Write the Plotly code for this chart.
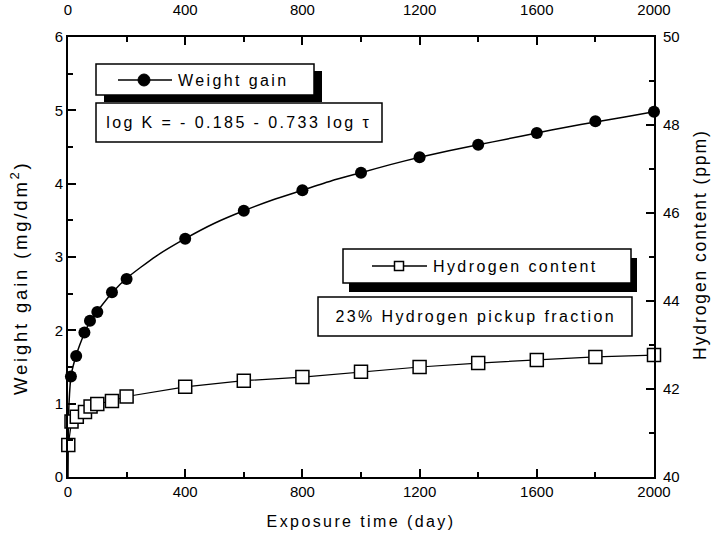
import plotly.graph_objects as go

# Weight gain measurements (mg/dm^2) vs exposure time (day)
wg_days = [10, 28, 56, 75, 100, 150, 200, 400, 600, 800, 1000, 1200, 1400, 1600, 1800, 2000]
wg_vals = [1.37, 1.65, 1.97, 2.13, 2.25, 2.52, 2.70, 3.25, 3.63, 3.91, 4.15, 4.36, 4.53, 4.69, 4.85, 4.98]

# Rate-law fit line through the weight gain data
fit_days = [0, 2, 5, 10, 28, 56, 75, 100, 150, 200, 300, 400, 500, 600, 700, 800, 900,
            1000, 1100, 1200, 1300, 1400, 1500, 1600, 1700, 1800, 1900, 2000]
fit_vals = [0.0, 0.85, 1.12, 1.37, 1.66, 1.96, 2.12, 2.26, 2.51, 2.71, 3.01, 3.25, 3.46,
            3.63, 3.78, 3.91, 4.04, 4.15, 4.26, 4.36, 4.45, 4.53, 4.61, 4.69, 4.77, 4.84,
            4.91, 4.98]

# Hydrogen content (ppm) vs exposure time (day)
h_days = [1, 12, 30, 58, 77, 100, 150, 200, 400, 600, 800, 1000, 1200, 1400, 1600, 1800, 2000]
h_vals = [40.73, 41.26, 41.37, 41.48, 41.60, 41.66, 41.73, 41.83, 42.05, 42.19, 42.27,
          42.39, 42.50, 42.59, 42.66, 42.73, 42.77]

x_ticks = [0, 400, 800, 1200, 1600, 2000]
y_ticks = [0, 1, 2, 3, 4, 5, 6]
y2_ticks = [40, 42, 44, 46, 48, 50]

W, H = 713, 543
L, R, T, B = 68, 59, 37, 66
PW, PH = W - L - R, H - T - B


def px(x):
    return (x - L) / PW


def py(y):
    return (H - B - y) / PH


FONT = "Arial, Liberation Sans, sans-serif"

fig = go.Figure()
fig.add_trace(go.Scatter(
    x=fit_days, y=fit_vals, mode="lines",
    line=dict(color="black", width=1.5, shape="spline", smoothing=0.6),
    hoverinfo="skip"))
fig.add_trace(go.Scatter(
    x=wg_days, y=wg_vals, mode="markers", cliponaxis=False,
    marker=dict(symbol="circle", size=12, color="black")))
fig.add_trace(go.Scatter(
    x=h_days, y=h_vals, mode="lines+markers", yaxis="y2", cliponaxis=False,
    line=dict(color="black", width=1.2),
    marker=dict(symbol="square", size=13, color="white",
                line=dict(color="black", width=1.5))))
# carrier for the top axis
fig.add_trace(go.Scatter(x=[0, 2000], y=[0, 0], xaxis="x2", mode="markers",
                         marker=dict(opacity=0), hoverinfo="skip"))

common = dict(ticks="inside", ticklen=8, tickwidth=1.5, tickcolor="black",
              showline=True, linewidth=2, linecolor="black", showgrid=False,
              zeroline=False, tickfont=dict(family=FONT, size=15, color="black"))

fig.update_layout(
    width=W, height=H, margin=dict(l=L, r=R, t=T, b=B, autoexpand=False),
    paper_bgcolor="white", plot_bgcolor="white", showlegend=False,
    font=dict(family=FONT, color="black"),
    xaxis=dict(range=[0, 2000], tickvals=x_ticks, **common,
               minor=dict(dtick=200, ticks="inside", ticklen=5, tickwidth=1.5,
                          tickcolor="black", showgrid=False),
               title=dict(text="Exposure time (day)", standoff=17,
                          font=dict(family=FONT, size=16))),
    xaxis2=dict(range=[0, 2000], tickvals=x_ticks, overlaying="x", side="top",
                anchor="y", ticklabelstandoff=14, **common,
                minor=dict(dtick=200, ticks="inside", ticklen=5, tickwidth=1.5,
                           tickcolor="black", showgrid=False)),
    yaxis=dict(range=[0, 6], tickvals=y_ticks, **common,
               minor=dict(dtick=0.5, ticks="inside", ticklen=5, tickwidth=1.5,
                          tickcolor="black", showgrid=False)),
    yaxis2=dict(range=[40, 50], tickvals=y2_ticks, overlaying="y", side="right",
                anchor="x", ticklabelstandoff=4, **common,
                minor=dict(dtick=1, ticks="inside", ticklen=5, tickwidth=1.5,
                           tickcolor="black", showgrid=False)),
)

shapes = []


def shadow_box(x0, y0, x1, y1, dx, dy):
    shapes.append(dict(type="rect", xref="paper", yref="paper",
                       x0=px(x0 + dx), x1=px(x1 + dx), y0=py(y1 + dy), y1=py(y0 + dy),
                       fillcolor="black", line=dict(width=0)))
    plain_box(x0, y0, x1, y1)


def plain_box(x0, y0, x1, y1):
    shapes.append(dict(type="rect", xref="paper", yref="paper",
                       x0=px(x0), x1=px(x1), y0=py(y1), y1=py(y0),
                       fillcolor="white", line=dict(color="black", width=1.5)))


# key boxes
shadow_box(96, 64, 314, 95, 8, 7)
plain_box(96, 103, 382, 142)
shadow_box(343, 249, 631, 283, 6, 9)
plain_box(318, 297, 632, 336)

# key symbols
shapes.append(dict(type="line", xref="paper", yref="paper",
                   x0=px(118), x1=px(172), y0=py(80), y1=py(80),
                   line=dict(color="black", width=1.5)))
shapes.append(dict(type="circle", xref="paper", yref="paper",
                   x0=px(138), x1=px(150), y0=py(86), y1=py(74),
                   fillcolor="black", line=dict(color="black", width=1)))
shapes.append(dict(type="line", xref="paper", yref="paper",
                   x0=px(372), x1=px(427), y0=py(266), y1=py(266),
                   line=dict(color="black", width=1.5)))
shapes.append(dict(type="rect", xref="paper", yref="paper",
                   x0=px(394.5), x1=px(403.5), y0=py(270.5), y1=py(261.5),
                   fillcolor="white", line=dict(color="black", width=1.5)))
fig.update_layout(shapes=shapes)

ann = dict(xref="paper", yref="paper", showarrow=False, borderpad=0, borderwidth=0,
           font=dict(family=FONT, size=16, color="black"))
fig.add_annotation(text="Weight gain", x=px(178), y=py(80), xanchor="left",
                   yanchor="middle", align="left", **ann)
fig.add_annotation(text="log K = - 0.185 - 0.733 log \u03c4", x=px(239), y=py(122.5),
                   xanchor="center", yanchor="middle", align="center", **ann)
fig.add_annotation(text="Hydrogen content", x=px(433), y=py(266), xanchor="left",
                   yanchor="middle", align="left", **ann)
fig.add_annotation(text="23% Hydrogen pickup fraction", x=px(475), y=py(316.5),
                   xanchor="center", yanchor="middle", align="center", **ann)

# vertical axis titles
vt = dict(xref="paper", yref="paper", showarrow=False, borderpad=0, borderwidth=0,
          textangle=-90, xanchor="center", yanchor="middle", align="center")
fig.add_annotation(text="Weight gain (mg/dm<sup>2</sup>)", x=px(19), y=py(278),
                   font=dict(family=FONT, size=18.5, color="black"), **vt)
fig.add_annotation(text="Hydrogen content (ppm)", x=px(700), y=py(245),
                   font=dict(family=FONT, size=17.5, color="black"), **vt)

# wide letter tracking for the key texts and axis titles
post_js = """
(function(){
  var gd = document.getElementById('{plot_id}');
  gd.querySelectorAll('.annotation-text').forEach(function(el){
    var t = el.textContent || '';
    var sp = '2.4px';
    if (t.indexOf('(mg/dm') >= 0) sp = '2.8px';
    else if (t.indexOf('(ppm)') >= 0) sp = '1.9px';
    el.style.letterSpacing = sp;
  });
  gd.querySelectorAll('.xtitle').forEach(function(el){ el.style.letterSpacing = '2.4px'; });
})();
"""

fig.write_html("out.html", post_script=post_js)
